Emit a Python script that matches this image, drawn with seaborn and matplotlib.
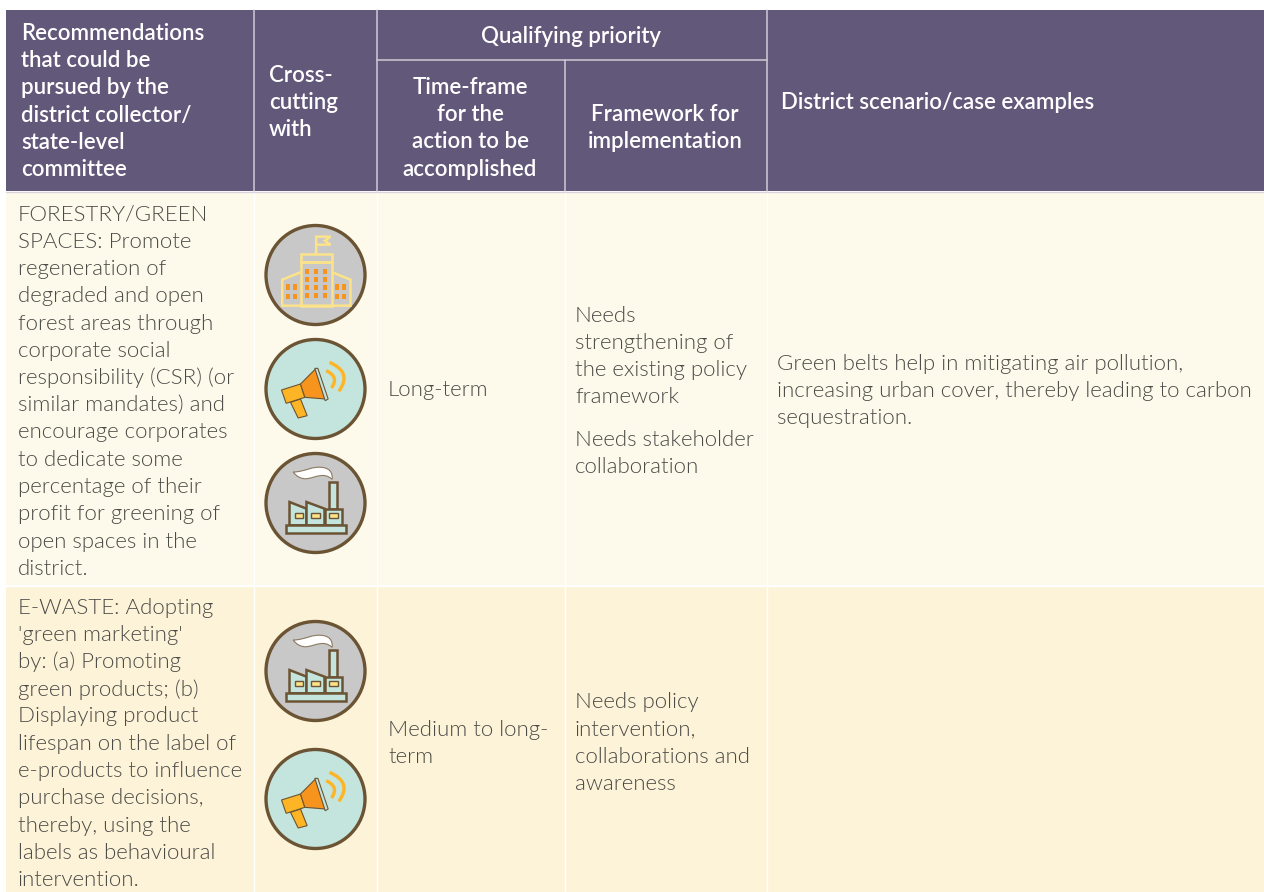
import numpy as np
import matplotlib
matplotlib.use('Agg')
import matplotlib.pyplot as plt
import seaborn as sns
from matplotlib import font_manager
from matplotlib.colors import ListedColormap
from matplotlib.patches import Circle, PathPatch, Polygon
from matplotlib.path import Path

# ---------------------------
# Table content
# ---------------------------
head_recommend = ['Recommendations', 'that could be', 'pursued by the', 'district collector/', 'state-level', 'committee']
head_cross = ['Cross-', 'cutting', 'with']
head_priority = 'Qualifying priority'
head_time = ['Time-frame', 'for the', 'action to be', 'accomplished']
head_framework = ['Framework for', 'implementation']
head_cases = 'District scenario/case examples'

row1_recommend = ['FORESTRY/GREEN', 'SPACES: Promote', 'regeneration of', 'degraded and open',
                  'forest areas through', 'corporate social', 'responsibility (CSR) (or',
                  'similar mandates) and', 'encourage corporates', 'to dedicate some',
                  'percentage of their', 'profit for greening of', 'open spaces in the', 'district.']
row1_time = ['Long-term']
row1_framework_a = ['Needs', 'strengthening of', 'the existing policy', 'framework']
row1_framework_b = ['Needs stakeholder', 'collaboration']
row1_cases = ['Green belts help in mitigating air pollution,',
              'increasing urban cover, thereby leading to carbon',
              'sequestration.']

row2_recommend = ['E-WASTE: Adopting', "'green marketing'", 'by: (a) Promoting', 'green products; (b)',
                  'Displaying product', 'lifespan on the label of', 'e-products to influence',
                  'purchase decisions,', 'thereby, using the', 'labels as behavioural', 'intervention.']
row2_time = ['Medium to long-', 'term']
row2_framework = ['Needs policy', 'intervention,', 'collaborations and', 'awareness']

# ---------------------------
# Style
# ---------------------------
W, H = 1264, 892
HEADER = '#62587A'
ROW1 = '#FEFAEB'
ROW2 = '#FDF3D8'
BODY_TEXT = '#4A4A46'
RING = '#6B5433'
GREY = '#C8C8C8'
TEAL = '#C4E4DE'
YELLOW = '#FCE38A'
ORANGE = '#F7941E'
AMBER = '#FDB525'
LINE_STEP = 27.25

sns.set_theme(style='white')
plt.rcParams['font.family'] = ['Lato', 'DejaVu Sans']

# 'light' resolves to the hairline cut, so look the light file up directly
light_files = [f.fname for f in font_manager.fontManager.ttflist
               if 'Lato-Light.' in f.fname]
body_font = {'fontproperties': font_manager.FontProperties(fname=light_files[0], size=16)} \
    if light_files else {'family': 'Lato', 'fontsize': 15, 'alpha': 0.8}

fig = plt.figure(figsize=(W / 100, H / 100), dpi=100)


# ---------------------------
# Bands are one-cell heatmaps
# ---------------------------
def band(x0, y0, x1, y1, color):
    a = fig.add_axes([x0 / W, 1 - y1 / H, (x1 - x0) / W, (y1 - y0) / H])
    sns.heatmap(np.zeros((1, 1)), cmap=ListedColormap([color]), cbar=False, ax=a,
                xticklabels=False, yticklabels=False)


band(6, 10, W, 191, HEADER)
band(6, 192, W, 585, ROW1)
band(6, 586, W, H, ROW2)

ax = fig.add_axes([0, 0, 1, 1])
ax.set_xlim(0, W)
ax.set_ylim(H, 0)
ax.axis('off')
ax.patch.set_alpha(0)

# grid lines
for x in [253.5, 377, 767]:
    ax.plot([x, x], [10, 191], color='#CFCBD6', lw=1.1)
ax.plot([564.5, 564.5], [60, 191], color='#CFCBD6', lw=1.1)
for x in [253.5, 377, 564.5, 767]:
    ax.plot([x, x], [192, H], color='#FFFFFF', lw=1.0)
ax.plot([377, 767], [60, 60], color='#CFCBD6', lw=1.1)
ax.plot([6, W], [191.5, 191.5], color='#D8D5DC', lw=1.0)
ax.plot([6, W], [585.5, 585.5], color='#FFFFFF', lw=1.0)


def head_lines(lines, x, y, ha='left', step=27.2):
    for i, s in enumerate(lines):
        ax.text(x, y + i * step, s, color='white', fontsize=16, fontweight='semibold',
                ha=ha, va='center')


def body_lines(lines, x, y):
    for i, s in enumerate(lines):
        ax.text(x, y + i * LINE_STEP, s, color=BODY_TEXT, ha='left', va='center', **body_font)


head_lines(head_recommend, 21, 33.5)
head_lines(head_cross, 269, 75.5)
head_lines([head_priority], 571, 36.5, ha='center')
head_lines(head_time, 470, 87.5, ha='center')
head_lines(head_framework, 665, 114.5, ha='center')
head_lines([head_cases], 781, 102.5)

body_lines(row1_recommend, 18, 214.5)
body_lines(row1_time, 388, 390.5)
body_lines(row1_framework_a, 575, 315.5)
body_lines(row1_framework_b, 575, 439.5)
body_lines(row1_cases, 777, 363.5)

body_lines(row2_recommend, 18, 607.5)
body_lines(row2_time, 388, 729.5)
body_lines(row2_framework, 575, 702.5)


# ---------------------------
# Icons: shapes are given in 3x crop pixels around the circle centre
# ---------------------------
def icon_base(cx, cy, fill):
    ax.add_patch(Circle((cx, cy), 49.5, facecolor=fill, edgecolor=RING, lw=2.4))


def poly(cx, cy, ref, pts, **kw):
    pts = [(cx + (px - ref[0]) / 3, cy + (py - ref[1]) / 3) for px, py in pts]
    ax.add_patch(Polygon(pts, closed=kw.pop('closed', True), **kw))


def curve(cx, cy, ref, pts, codes, **kw):
    pts = [(cx + (px - ref[0]) / 3, cy + (py - ref[1]) / 3) for px, py in pts]
    ax.add_patch(PathPatch(Path(pts, codes), **kw))


def box(cx, cy, ref, x0, y0, x1, y1, **kw):
    poly(cx, cy, ref, [(x0, y0), (x1, y0), (x1, y1), (x0, y1)], **kw)


def building_icon(cx, cy):
    icon_base(cx, cy, GREY)
    ref = (180, 193)
    line = dict(facecolor='none', edgecolor=YELLOW, lw=1.8, joinstyle='miter')
    box(cx, cy, ref, 135, 155, 230, 285, **line)
    box(cx, cy, ref, 135, 131, 230, 155, **line)
    poly(cx, cy, ref, [(182, 130), (182, 78), (225, 78), (208, 90), (225, 102), (182, 102)], closed=False, **line)
    poly(cx, cy, ref, [(135, 185), (80, 207), (80, 285), (285, 285), (285, 207), (230, 185)], closed=False, **line)
    win = dict(facecolor=ORANGE, edgecolor='none')
    for wx in [154, 181, 208]:
        for wy in [182, 206, 231, 255]:
            box(cx, cy, ref, wx - 5, wy - 8, wx + 5, wy + 8, **win)
    for wx in [97, 118, 244, 265]:
        for wy in [229, 258]:
            box(cx, cy, ref, wx - 5, wy - 8, wx + 5, wy + 8, **win)


def megaphone_icon(cx, cy):
    icon_base(cx, cy, TEAL)
    ref = (180, 175)
    edge = dict(edgecolor=RING, lw=0.8)
    poly(cx, cy, ref, [(105, 215), (135, 205), (155, 255), (128, 262)], facecolor=AMBER, **edge)
    poly(cx, cy, ref, [(78, 178), (135, 160), (148, 200), (92, 218)], facecolor=AMBER, **edge)
    poly(cx, cy, ref, [(135, 160), (180, 115), (210, 205), (148, 200)], facecolor=ORANGE, **edge)
    poly(cx, cy, ref, [(178, 113), (187, 113), (218, 205), (209, 210)], facecolor=TEAL, **edge)
    arc = dict(facecolor='none', edgecolor=AMBER, lw=2.4, capstyle='butt')
    codes = [Path.MOVETO, Path.CURVE3, Path.CURVE3]
    curve(cx, cy, ref, [(212, 120), (252, 138), (228, 172)], codes, **arc)
    curve(cx, cy, ref, [(222, 95), (292, 125), (250, 182)], codes, **arc)


def factory_icon(cx, cy):
    icon_base(cx, cy, GREY)
    ref = (180, 518)
    edge = dict(facecolor=TEAL, edgecolor=RING, lw=1.8, joinstyle='miter')
    box(cx, cy, ref, 219, 456, 244, 535, **edge)
    poly(cx, cy, ref, [(102, 515), (153, 535), (153, 585), (102, 585)], **edge)
    poly(cx, cy, ref, [(153, 515), (207, 535), (207, 585), (153, 585)], **edge)
    box(cx, cy, ref, 207, 535, 259, 585, **edge)
    box(cx, cy, ref, 92, 585, 272, 608, **edge)
    win = dict(facecolor=YELLOW, edgecolor=RING, lw=1.0)
    for wx in [117, 167, 220]:
        box(cx, cy, ref, wx, 547, wx + 26, 563, **win)
    c4 = Path.CURVE4
    curve(cx, cy, ref,
          [(113, 425), (150, 425), (170, 405), (205, 412), (225, 416), (232, 430), (230, 447),
           (205, 425), (185, 440), (155, 445), (135, 447), (122, 437), (113, 425)],
          [Path.MOVETO] + [c4] * 12,
          facecolor='white', edgecolor='#8A7A60', lw=0.8)


building_icon(315.5, 275)
megaphone_icon(315.5, 389)
factory_icon(315.5, 503)
factory_icon(315.5, 671)
megaphone_icon(315.5, 799)

fig.savefig('out.png', dpi=100, facecolor='white')
